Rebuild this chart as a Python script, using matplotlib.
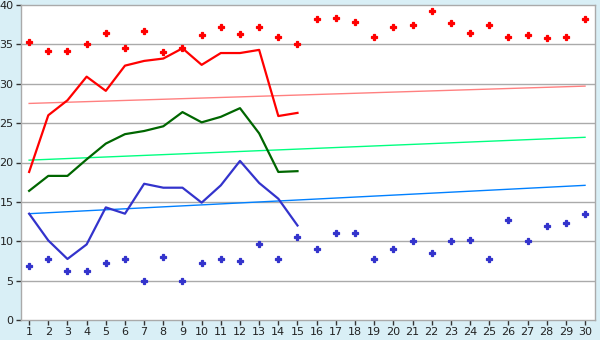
import numpy as np
import matplotlib
matplotlib.use('Agg')
import matplotlib.pyplot as plt

# days of the month
days = np.arange(1, 31)

# daily max / min readings (scatter)
max_points = [35.3, 34.2, 34.1, 35.1, 36.4, 34.5, 36.7, 34.0, 34.5, 36.2,
              37.2, 36.3, 37.2, 36.0, 35.0, 38.2, 38.4, 37.8, 36.0, 37.2,
              37.5, 39.3, 37.7, 36.4, 37.5, 35.9, 36.2, 35.8, 36.0, 38.2]
min_points = [6.9, 7.8, 6.2, 6.2, 7.2, 7.8, 5.0, 8.0, 5.0, 7.2,
              7.8, 7.45, 9.7, 7.8, 10.6, 9.0, 11.0, 11.0, 7.8, 9.0,
              10.0, 8.5, 10.0, 10.1, 7.8, 12.7, 10.0, 12.0, 12.3, 13.4]

# current month series (first 15 days)
line_days = np.arange(1, 16)
max_line = [18.8, 26.0, 27.9, 30.9, 29.1, 32.3, 32.9, 33.2, 34.5, 32.4,
            33.9, 33.9, 34.3, 25.9, 26.3]
avg_line = [16.4, 18.3, 18.3, 20.4, 22.4, 23.6, 24.0, 24.6, 26.4, 25.1,
            25.8, 26.9, 23.7, 18.8, 18.9]
min_line = [13.5, 10.1, 7.75, 9.6, 14.3, 13.5, 17.3, 16.8, 16.8, 14.9,
            17.1, 20.2, 17.4, 15.4, 12.0]

# trend lines (value at day 1, value at day 30)
trend_days = [1, 30]
trend_max = [27.5, 29.7]
trend_avg = [20.3, 23.2]
trend_min = [13.5, 17.1]

bg = '#d9eff6'
grid_col = '#aaaaaa'

fig = plt.figure(figsize=(6, 3.4), dpi=100, facecolor=bg)
ax = fig.add_axes([20.5 / 600, 20 / 340, 574.5 / 600, 315 / 340])
ax.set_facecolor('white')

# gridlines
for yv in range(5, 40, 5):
    ax.axhline(yv, color=grid_col, linewidth=1.0, zorder=1)

# trend lines
ax.plot(trend_days, trend_max, color='#ff8080', linewidth=1.0, zorder=2)
ax.plot(trend_days, trend_avg, color='#00ff80', linewidth=1.0, zorder=2)
ax.plot(trend_days, trend_min, color='#0080ff', linewidth=1.0, zorder=2)

# main lines
ax.plot(line_days, max_line, color='#ff0000', linewidth=1.6, zorder=3)
ax.plot(line_days, avg_line, color='#006600', linewidth=1.6, zorder=3)
ax.plot(line_days, min_line, color='#3333cc', linewidth=1.6, zorder=3)

# scatter points
ax.plot(days, max_points, linestyle='none', marker='P', markersize=4.5,
        color='#ff0000', markeredgewidth=0.9, zorder=4)
ax.plot(days, min_points, linestyle='none', marker='P', markersize=4.5,
        color='#3333cc', markeredgewidth=0.9, zorder=4)

ax.set_xlim(0.55, 30.52)
ax.set_ylim(0, 40)
ax.set_xticks(days)
ax.set_xticklabels([str(d) for d in days])
ax.set_yticks(range(0, 41, 5))

for sp in ax.spines.values():
    sp.set_color(grid_col)
    sp.set_linewidth(1.0)

ax.tick_params(axis='both', direction='out', length=3.5, width=1.0,
               color='#333333', labelsize=8, labelcolor='#222222', pad=1.5)

fig.savefig('out.png', dpi=100, facecolor=bg)
